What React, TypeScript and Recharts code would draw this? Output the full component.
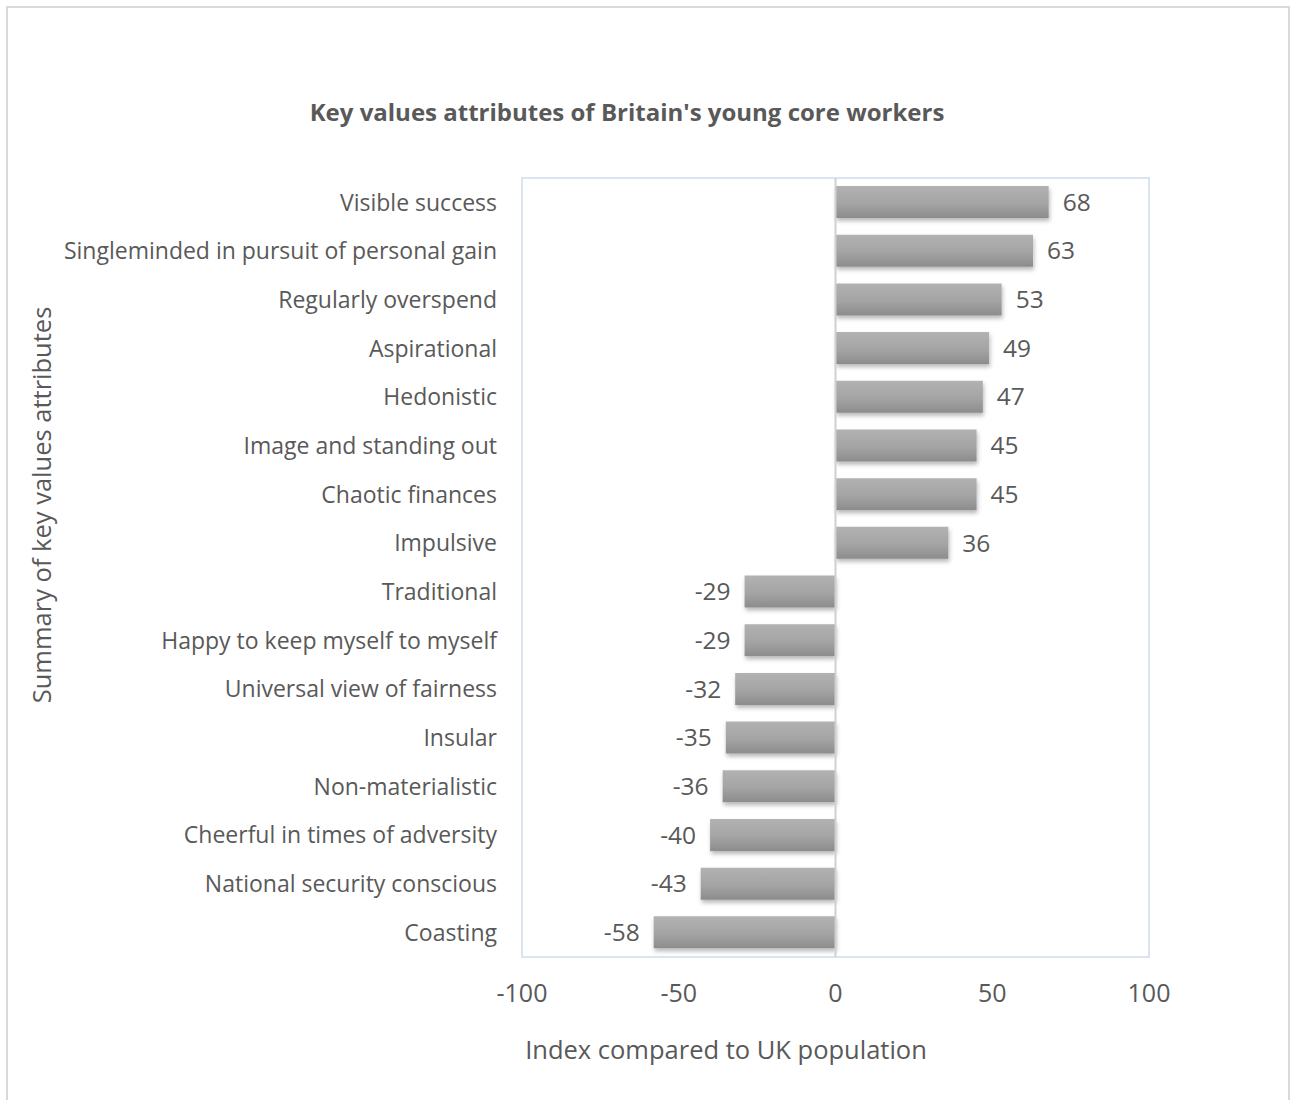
import React from "react";
import {
  BarChart, Bar, XAxis, YAxis, ReferenceLine, ReferenceArea, LabelList,
} from "recharts";

const attributes = [
  "Visible success",
  "Singleminded in pursuit of personal gain",
  "Regularly overspend",
  "Aspirational",
  "Hedonistic",
  "Image and standing out",
  "Chaotic finances",
  "Impulsive",
  "Traditional",
  "Happy to keep myself to myself",
  "Universal view of fairness",
  "Insular",
  "Non-materialistic",
  "Cheerful in times of adversity",
  "National security conscious",
  "Coasting",
];

const indexValues = [68, 63, 53, 49, 47, 45, 45, 36, -29, -29, -32, -35, -36, -40, -43, -58];

const xTicks = [-100, -50, 0, 50, 100];

const data = attributes.map((name, i) => ({ name, value: indexValues[i] }));

const FONT = "'Open Sans', sans-serif";
const TEXT = "#595959";

export default function App() {
  return (
    <div style={{ position: "absolute", left: 0, top: 0, width: 1296, height: 1100, background: "#fff", fontFamily: FONT }}>
      <div
        style={{
          position: "absolute", left: 6, top: 6, width: 1284, height: 1100,
          borderLeft: "2px solid #d9d9d9", borderRight: "2px solid #d9d9d9", borderTop: "2px solid #d9d9d9",
          boxSizing: "border-box",
        }}
      />
      <BarChart
        width={1296}
        height={1100}
        data={data}
        layout="vertical"
        margin={{ top: 178, right: 147, bottom: 0, left: 0 }}
        barCategoryGap={0}
        style={{ position: "absolute", left: 0, top: 0 }}
      >
        <defs>
          <linearGradient id="barGrad" x1="0" y1="0" x2="0" y2="1">
            <stop offset="0%" stopColor="#b2b2b2" />
            <stop offset="55%" stopColor="#a4a4a4" />
            <stop offset="100%" stopColor="#8c8c8c" />
          </linearGradient>
          <filter id="barShadow" x="-10%" y="-20%" width="120%" height="160%">
            <feDropShadow dx="1" dy="3" stdDeviation="2" floodColor="#000" floodOpacity="0.28" />
          </filter>
        </defs>
        <text x={627} y={121} textAnchor="middle" fontFamily={FONT} fontWeight={700} fontSize={24} fill={TEXT}>
          Key values attributes of Britain's young core workers
        </text>
        <text
          x={51}
          y={505}
          transform="rotate(-90 51 505)"
          textAnchor="middle"
          fontFamily={FONT}
          fontSize={25.5}
          fill={TEXT}
        >
          Summary of key values attributes
        </text>
        <text x={726} y={1059} textAnchor="middle" fontFamily={FONT} fontSize={25.5} fill={TEXT}>
          Index compared to UK population
        </text>
        <XAxis
          type="number"
          domain={[-100, 100]}
          ticks={xTicks}
          axisLine={false}
          tickLine={false}
          tickMargin={21}
          height={143}
          tick={{ fontSize: 25, fill: TEXT, fontFamily: FONT }}
        />
        <YAxis
          type="category"
          dataKey="name"
          width={522}
          axisLine={false}
          tickLine={false}
          tickMargin={19}
          interval={0}
          tick={{ fontSize: 23, fill: TEXT, fontFamily: FONT }}
        />
        <ReferenceArea x1={-100} x2={100} fill="none" stroke="#dbe5f1" strokeWidth={2} />
        <Bar
          dataKey="value"
          barSize={32}
          fill="url(#barGrad)"
          filter="url(#barShadow)"
          isAnimationActive={false}
        >
          <LabelList dataKey="value" position="right" offset={14} fontSize={24.5} fill={TEXT} fontFamily={FONT} />
        </Bar>
        <ReferenceLine x={0} stroke="#d0d0d0" strokeWidth={2} />
      </BarChart>
    </div>
  );
}
